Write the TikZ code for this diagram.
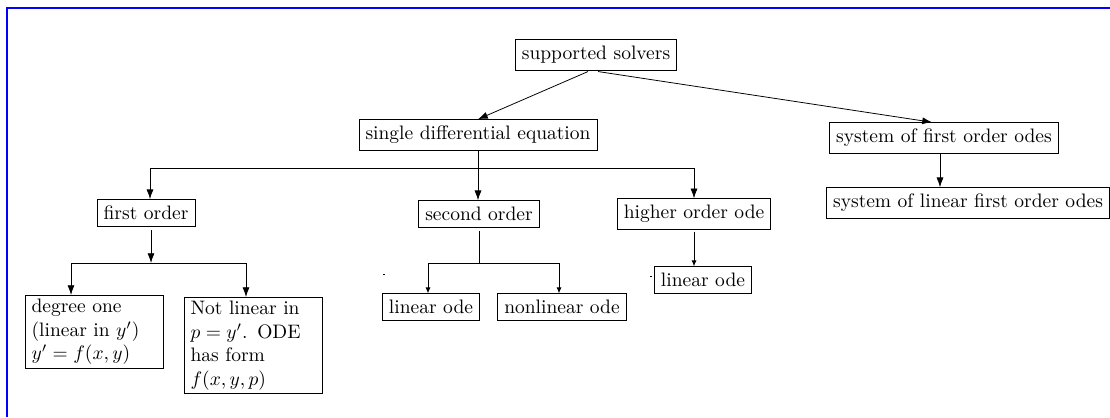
\documentclass[tikz,border=0pt]{standalone}
\usetikzlibrary{arrows.meta,calc}
\begin{document}
\begin{tikzpicture}[x=0.5128pt,y=-0.5128pt,
  box/.style={draw,rectangle,inner sep=3.33pt},
  mbox/.style={draw,rectangle,inner xsep=3.33pt,inner ysep=2pt,align=left,text width=64pt,anchor=north},
  arr/.style={-{Latex[length=5pt,width=3.6pt]}},
  sarr/.style={-{Latex[length=3pt,width=2.6pt]}},
  frame/.style={blue,line width=0.6pt}]
\useasboundingbox (0,0) rectangle (1110,417);
\draw[frame] (7,417) -- (7,8) -- (1110,8);
% nodes
\node[box] (ss) at (596,55) {supported solvers};
\node[box] (sde) at (478,135) {single differential equation};
\node[box] (sys) at (944,138) {system of first order odes};
\node[box] (sysl) at (968,203) {system of linear first order odes};
\node[box] (fo) at (146,213) {first order};
\node[box] (so) at (479,214) {second order};
\node[box] (ho) at (694,214) {higher order ode};
\node[mbox] (d1) at (94,295) {degree one\\(linear in $y'$)\\$y'=f(x,y)$};
\node[mbox] (nl) at (253,297) {Not linear in\\$p=y'$. ODE\\has form\\$f(x,y,p)$};
\node[box] (lo) at (431,307) {linear ode};
\node[box] (nlo) at (562,307) {nonlinear ode};
\node[box] (lo2) at (703,280) {linear ode};
% junction coordinates
\coordinate (b1) at (478,168);
\coordinate (b2) at (151,263);
\coordinate (b3) at (479,263);
% connectors
\draw[arr] ($(ss.south)+(-8,1)$) -- (sde.north);
\draw[arr] ($(ss.south)+(2,1)$) -- ($(sys.north)+(-12,0)$);
\draw[arr] (sys.south -| 940,0) -- (sysl.north -| 940,0);
\draw (sde.south) -- (b1);
\draw[arr] (b1) -- (so.north -| b1);
\draw[arr] (b1) -| ($(fo.north)+(4,0)$);
\draw[arr] (b1) -| (ho.north);
\draw[arr] ($(fo.south)+(5,3)$) -- (b2);
\draw[arr] (b2) -| ($(d1.north)+(-23,0)$);
\draw[arr] (b2) -| ($(nl.north)+(-7,0)$);
\draw (so.south) ++(0,3) -- (b3);
\draw[sarr] (b3) -| ($(lo.north)+(-3,0)$);
\draw[sarr] (b3) -| ($(nlo.north)+(-3,0)$);
\draw[sarr] ($(ho.south)+(0,2)$) -- (lo2.north -| ho.south);
% small stray marks
\fill (383,274) rectangle (385,275);
\fill (650,276) rectangle (652,277);
\end{tikzpicture}
\end{document}
